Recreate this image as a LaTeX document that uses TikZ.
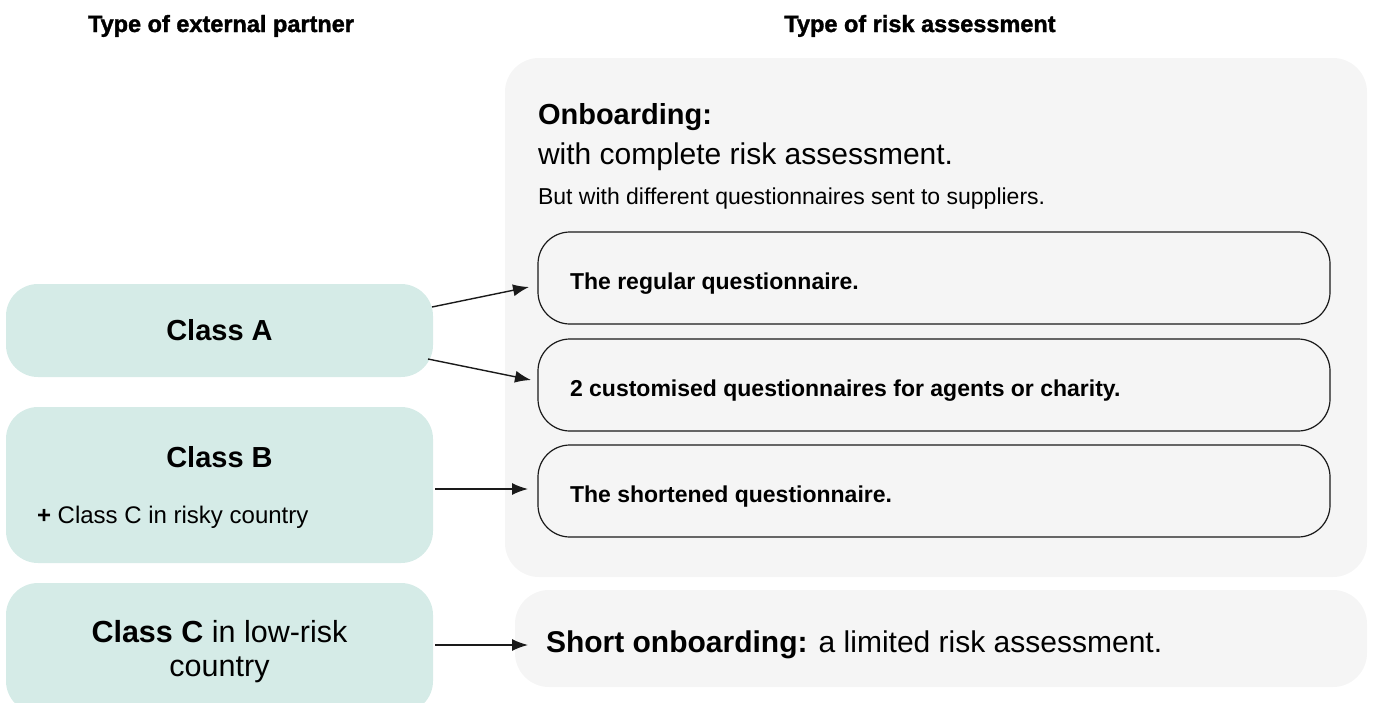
\documentclass[tikz,border=0pt]{standalone}
\usepackage{fontspec}
\setmainfont{Liberation Sans}
\newfontfamily\heavyfont{Liberation Sans Bold}[FakeBold=1.5]
\usetikzlibrary{arrows.meta}
\definecolor{classfill}{HTML}{D5EBE7}
\definecolor{panelgrey}{HTML}{F5F5F5}
\definecolor{linedark}{HTML}{1A1A1A}
\newcommand\fsz[1]{\fontsize{#1}{1.2\dimexpr#1\relax}\selectfont}
\begin{document}
\begin{tikzpicture}[x=1pt,y=-1pt,
  every node/.style={inner sep=0pt, outer sep=0pt},
  classbox/.style={fill=classfill, draw=none, rounded corners=32pt},
  panel/.style={fill=panelgrey, draw=none, rounded corners=34pt},
  qbox/.style={draw=linedark, line width=1.2pt, fill=panelgrey, rounded corners=32pt},
  header/.style={font=\heavyfont\fsz{23.5pt}, anchor=base},
  classtitle/.style={font=\fsz{29pt}\bfseries},
  qtext/.style={font=\fsz{23pt}\bfseries, anchor=base west},
  conn/.style={-{Latex[length=16pt,width=12pt]}, line width=1.4pt, draw=linedark}]
\useasboundingbox (0,0) rectangle (1375,702);
\clip (0,0) rectangle (1375,702);

% headers
\node[header] (h1) at (221,32) {Type of external partner};
\node[header] (h2) at (920,32) {Type of risk assessment};

% left class boxes
\node[classbox, minimum width=427pt, minimum height=93pt, classtitle] (classA) at (219.5,330.5) {Class A};
\node[classbox, minimum width=427pt, minimum height=156pt] (classB) at (219.5,485) {};
\node[classtitle, anchor=base] (classBt) at (219.5,467) {Class B};
\node[font=\fsz{24pt}, anchor=base west] (classBs) at (37,523) {\textbf{+} Class C in risky country};
\node[classbox, minimum width=427pt, minimum height=130pt] (classC) at (219.5,648) {};
\node[font=\fsz{30.5pt}, anchor=base] (classCt1) at (219.5,642) {\textbf{Class C} in low-risk};
\node[font=\fsz{30.5pt}, anchor=base] (classCt2) at (219.5,676) {country};

% right panel
\node[panel, minimum width=862pt, minimum height=519pt] (onb) at (936,317.5) {};
\node[font=\fsz{29pt}\bfseries, anchor=base west] (onbt1) at (538,124) {Onboarding:};
\node[font=\fsz{30pt}, anchor=base west] (onbt2) at (538,164) {with complete risk assessment.};
\node[font=\fsz{23pt}, anchor=base west] (onbt3) at (538,204) {But with different questionnaires sent to suppliers.};

\node[qbox, minimum width=792pt, minimum height=92pt] (q1) at (934,278) {};
\node[qbox, minimum width=792pt, minimum height=92pt] (q2) at (934,385) {};
\node[qbox, minimum width=792pt, minimum height=92pt] (q3) at (934,491) {};
\node[qtext] (q1t) at (570,289) {The regular questionnaire.};
\node[qtext] (q2t) at (570,396) {2 customised questionnaires for agents or charity.};
\node[qtext] (q3t) at (570,502) {The shortened questionnaire.};

\node[panel, minimum width=852pt, minimum height=97pt] (short) at (941,638.5) {};
\node[font=\fsz{30pt}, anchor=base west] (shortt) at (546,652) {\textbf{Short onboarding:} a limited risk assessment.};

% connectors
\draw[conn] ([xshift=-1pt,yshift=23.5pt]classA.east) -- ([xshift=-9pt,yshift=-9pt]q1.west);
\draw[conn] ([xshift=-5pt,yshift=-28.5pt]classA.east) -- ([xshift=-7pt,yshift=5pt]q2.west);
\draw[conn] ([xshift=2pt,yshift=-4pt]classB.east) -- ([xshift=-10pt,yshift=2pt]q3.west);
\draw[conn] ([xshift=2pt,yshift=3pt]classC.east) -- ([xshift=13pt,yshift=-6.5pt]short.west);
\end{tikzpicture}
\end{document}
